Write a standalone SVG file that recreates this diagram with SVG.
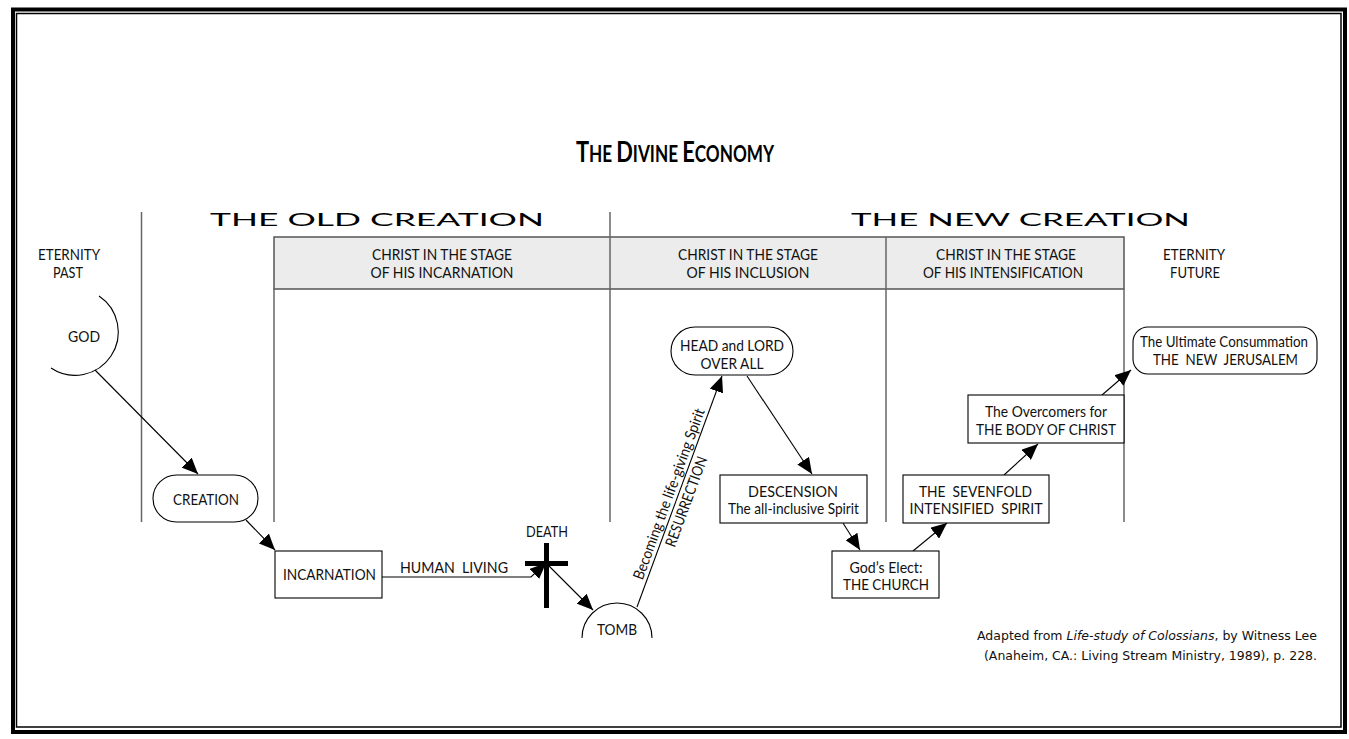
<svg xmlns="http://www.w3.org/2000/svg" width="1349" height="739" viewBox="0 0 1349 739">
<defs>
<marker id="ah" markerUnits="userSpaceOnUse" markerWidth="17" markerHeight="14" refX="16" refY="7" orient="auto">
<path d="M0,0 L16,7 L0,14 z" fill="#000"/>
</marker>
<style>
.t{font-family:Lato,"Liberation Sans",sans-serif;font-size:15px;fill:#111;text-anchor:middle}
.n{fill:#fff;stroke:#000;stroke-width:1.1}
.col{stroke:#666;stroke-width:1.5;fill:none}
.c{stroke:#000;stroke-width:1.1;fill:none;marker-end:url(#ah)}
.band{font-family:Lato,"Liberation Sans",sans-serif;font-size:18px;fill:#000}
.fn{font-family:"DejaVu Sans",Verdana,sans-serif;font-size:11.5px;fill:#111;text-anchor:end}
</style>
</defs>
<rect x="0" y="0" width="1349" height="739" fill="#fff"/>
<rect x="13" y="9.5" width="1332" height="722.5" fill="none" stroke="#000" stroke-width="4"/>
<rect x="16.5" y="13.5" width="1324.5" height="713.5" fill="none" stroke="#000" stroke-width="1.5"/>

<g id="title">
<text transform="translate(675,162) scale(0.78,1)" x="0" y="0" text-anchor="middle" font-family="Lato,'Liberation Sans',sans-serif" font-weight="bold" fill="#000"><tspan font-size="28">T</tspan><tspan font-size="22">HE </tspan><tspan font-size="28">D</tspan><tspan font-size="22">IVINE </tspan><tspan font-size="28">E</tspan><tspan font-size="22">CONOMY</tspan></text>
</g>

<g id="bands">
<text class="band" x="210" y="226" textLength="334" lengthAdjust="spacingAndGlyphs">THE OLD CREATION</text>
<text class="band" x="851" y="226" textLength="339" lengthAdjust="spacingAndGlyphs">THE NEW CREATION</text>
</g>

<g id="header">
<rect x="274" y="237" width="850" height="52" fill="#ececec" stroke="#555" stroke-width="1.5"/>
<text class="t" x="442" y="260" textLength="140" lengthAdjust="spacingAndGlyphs">CHRIST IN THE STAGE</text>
<text class="t" x="442" y="278" textLength="143" lengthAdjust="spacingAndGlyphs">OF HIS INCARNATION</text>
<text class="t" x="748" y="260" textLength="140" lengthAdjust="spacingAndGlyphs">CHRIST IN THE STAGE</text>
<text class="t" x="748" y="278" textLength="123" lengthAdjust="spacingAndGlyphs">OF HIS INCLUSION</text>
<text class="t" x="1006" y="260" textLength="140" lengthAdjust="spacingAndGlyphs">CHRIST IN THE STAGE</text>
<text class="t" x="1003" y="278" textLength="160" lengthAdjust="spacingAndGlyphs">OF HIS INTENSIFICATION</text>
</g>

<g id="columns">
<line class="col" x1="141.5" y1="212" x2="141.5" y2="522"/>
<line class="col" x1="274" y1="289" x2="274" y2="522"/>
<line class="col" x1="610" y1="212" x2="610" y2="522"/>
<line class="col" x1="886" y1="237" x2="886" y2="522"/>
<line class="col" x1="1124" y1="289" x2="1124" y2="522"/>
</g>

<g id="eternity-past">
<text class="t" x="69" y="260" textLength="62" lengthAdjust="spacingAndGlyphs">ETERNITY</text>
<text class="t" x="68" y="278" textLength="30" lengthAdjust="spacingAndGlyphs">PAST</text>
</g>
<g id="eternity-future">
<text class="t" x="1194" y="260" textLength="62" lengthAdjust="spacingAndGlyphs">ETERNITY</text>
<text class="t" x="1195" y="278" textLength="50" lengthAdjust="spacingAndGlyphs">FUTURE</text>
</g>

<g id="connectors">
<line class="c" x1="95" y1="370" x2="198" y2="474"/>
<line class="c" x1="246" y1="520" x2="275" y2="550"/>
<path class="c" d="M382,577 L531,577 L546,563"/>
<line class="c" x1="547" y1="564" x2="593" y2="610"/>
<line class="c" x1="637" y1="607" x2="722" y2="376"/>
<line class="c" x1="747" y1="376" x2="812" y2="474"/>
<line class="c" x1="843" y1="523" x2="860" y2="550"/>
<line class="c" x1="913" y1="551" x2="947" y2="523"/>
<line class="c" x1="1004" y1="475" x2="1038" y2="444"/>
<line class="c" x1="1102" y1="395" x2="1131" y2="370"/>
</g>

<g id="resurrection" transform="translate(637,607) rotate(-69.8)">
<text class="t" x="117" y="-4" font-size="12.5" textLength="181" lengthAdjust="spacingAndGlyphs">Becoming the life-giving Spirit</text>
<text class="t" x="116" y="15" font-size="12.5" textLength="95" lengthAdjust="spacingAndGlyphs">RESURRECTION</text>
</g>

<g id="god">
<path d="M99,296 A43,43 0 1 1 51,368" fill="none" stroke="#000" stroke-width="1.1"/>
<text class="t" x="84" y="342" textLength="32" lengthAdjust="spacingAndGlyphs">GOD</text>
</g>

<g id="creation">
<rect class="n" x="153" y="475" width="105" height="47" rx="23.5"/>
<text class="t" x="206" y="505" textLength="66" lengthAdjust="spacingAndGlyphs">CREATION</text>
</g>

<g id="incarnation">
<rect class="n" x="275" y="551" width="107" height="47"/>
<text class="t" x="329.5" y="580" textLength="93" lengthAdjust="spacingAndGlyphs">INCARNATION</text>
</g>

<g id="human-living">
<text class="t" x="454" y="573" textLength="108" lengthAdjust="spacingAndGlyphs" xml:space="preserve">HUMAN  LIVING</text>
</g>

<g id="death">
<text class="t" x="547" y="537" textLength="42" lengthAdjust="spacingAndGlyphs">DEATH</text>
<rect x="544" y="543" width="5" height="65" fill="#000"/>
<rect x="525" y="561" width="43" height="5" fill="#000"/>
</g>

<g id="tomb">
<path d="M582,638 A35,35 0 0 1 652,638" fill="none" stroke="#000" stroke-width="1.1"/>
<text class="t" x="617" y="635" textLength="40" lengthAdjust="spacingAndGlyphs">TOMB</text>
</g>

<g id="head">
<rect class="n" x="671" y="327" width="122" height="48" rx="24"/>
<text class="t" x="732" y="351" textLength="104" lengthAdjust="spacingAndGlyphs">HEAD and LORD</text>
<text class="t" x="732" y="369" textLength="63" lengthAdjust="spacingAndGlyphs">OVER ALL</text>
</g>

<g id="descension">
<rect class="n" x="720" y="475" width="147" height="48"/>
<text class="t" x="793" y="497" textLength="90" lengthAdjust="spacingAndGlyphs">DESCENSION</text>
<text class="t" x="793.5" y="514" textLength="131" lengthAdjust="spacingAndGlyphs">The all-inclusive Spirit</text>
</g>

<g id="church">
<rect class="n" x="832" y="551" width="107" height="47"/>
<text class="t" x="886" y="573" textLength="73" lengthAdjust="spacingAndGlyphs">God’s Elect:</text>
<text class="t" x="886" y="590" textLength="86" lengthAdjust="spacingAndGlyphs">THE CHURCH</text>
</g>

<g id="sevenfold">
<rect class="n" x="903" y="475" width="146" height="48"/>
<text class="t" x="975.5" y="497" textLength="113" lengthAdjust="spacingAndGlyphs" xml:space="preserve">THE  SEVENFOLD</text>
<text class="t" x="976" y="514" textLength="133" lengthAdjust="spacingAndGlyphs" xml:space="preserve">INTENSIFIED  SPIRIT</text>
</g>

<g id="overcomers">
<rect class="n" x="968" y="395" width="156" height="48"/>
<text class="t" x="1046" y="417" textLength="122" lengthAdjust="spacingAndGlyphs">The Overcomers for</text>
<text class="t" x="1046" y="435" textLength="140" lengthAdjust="spacingAndGlyphs">THE BODY OF CHRIST</text>
</g>

<g id="new-jerusalem">
<rect class="n" x="1133" y="327" width="184" height="47" rx="15"/>
<text class="t" x="1224" y="347" textLength="168" lengthAdjust="spacingAndGlyphs">The Ultimate Consummation</text>
<text class="t" x="1225.5" y="365" textLength="145" lengthAdjust="spacingAndGlyphs" xml:space="preserve">THE  NEW  JERUSALEM</text>
</g>

<g id="footnote">
<text class="fn" x="1317" y="640" textLength="340" lengthAdjust="spacingAndGlyphs">Adapted from <tspan font-style="italic">Life-study of Colossians</tspan>, by Witness Lee</text>
<text class="fn" x="1317" y="660" textLength="333" lengthAdjust="spacingAndGlyphs">(Anaheim, CA.: Living Stream Ministry, 1989), p. 228.</text>
</g>
</svg>
